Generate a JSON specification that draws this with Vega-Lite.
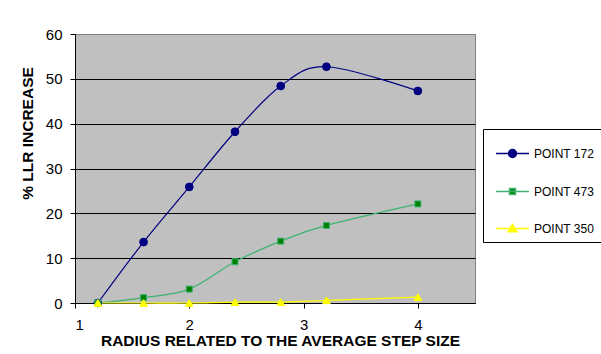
{
  "$schema": "https://vega.github.io/schema/vega-lite/v6.json",
  "width": 400,
  "height": 269,
  "autosize": {"type": "none"},
  "padding": {"left": 75, "top": 34, "right": 126, "bottom": 51},
  "background": "white",
  "config": {
    "font": "Liberation Sans",
    "view": {"fill": "#C0C0C0", "stroke": "#808080", "strokeWidth": 1},
    "axis": {
      "labelFont": "Liberation Sans",
      "labelFontSize": 15,
      "labelColor": "black",
      "domainColor": "black",
      "tickColor": "black",
      "tickSize": 5,
      "titleFont": "Liberation Sans",
      "titleFontSize": 15.5,
      "titleFontWeight": "bold",
      "titleColor": "black"
    },
    "legend": {
      "orient": "none",
      "legendX": 408,
      "legendY": 95,
      "padding": 7,
      "symbolOffset": 5,
      "labelOffset": 4,
      "rowPadding": 13,
      "labelFont": "Liberation Sans",
      "labelFontSize": 12,
      "labelColor": "black",
      "strokeColor": "black",
      "fillColor": "white",
      "symbolSize": 1089,
      "symbolStrokeWidth": 1.5
    }
  },
  "data": {
    "values": [
      {"series": "POINT 172", "x": 1.2, "y": 0},
      {"series": "POINT 172", "x": 1.6, "y": 13.6},
      {"series": "POINT 172", "x": 2.0, "y": 25.9},
      {"series": "POINT 172", "x": 2.4, "y": 38.2},
      {"series": "POINT 172", "x": 2.8, "y": 48.4},
      {"series": "POINT 172", "x": 3.2, "y": 52.7},
      {"series": "POINT 172", "x": 4.0, "y": 47.3},
      {"series": "POINT 473", "x": 1.2, "y": 0},
      {"series": "POINT 473", "x": 1.6, "y": 1.2},
      {"series": "POINT 473", "x": 2.0, "y": 3.1},
      {"series": "POINT 473", "x": 2.4, "y": 9.2},
      {"series": "POINT 473", "x": 2.8, "y": 13.8},
      {"series": "POINT 473", "x": 3.2, "y": 17.3},
      {"series": "POINT 473", "x": 4.0, "y": 22.1},
      {"series": "POINT 350", "x": 1.2, "y": 0},
      {"series": "POINT 350", "x": 1.6, "y": 0},
      {"series": "POINT 350", "x": 2.0, "y": 0},
      {"series": "POINT 350", "x": 2.4, "y": 0.2},
      {"series": "POINT 350", "x": 2.8, "y": 0.2},
      {"series": "POINT 350", "x": 3.2, "y": 0.6},
      {"series": "POINT 350", "x": 4.0, "y": 1.3}
    ]
  },
  "encoding": {
    "x": {
      "field": "x",
      "type": "quantitative",
      "title": "RADIUS RELATED TO THE AVERAGE STEP SIZE",
      "scale": {"domain": [1, 4.5], "nice": false, "zero": false},
      "axis": {
        "values": [1, 2, 3, 4],
        "grid": false,
        "labelPadding": 9,
        "titleX": 205,
        "titleY": 42,
        "titleAlign": "center",
        "titleBaseline": "alphabetic"
      }
    },
    "y": {
      "field": "y",
      "type": "quantitative",
      "title": "% LLR INCREASE",
      "scale": {"domain": [0, 60], "nice": false},
      "axis": {
        "values": [0, 10, 20, 30, 40, 50, 60],
        "grid": true,
        "gridColor": {"condition": {"test": "datum.value === 60", "value": "#808080"}, "value": "#000000"},
        "gridOpacity": 1,
        "gridWidth": 1,
        "labelPadding": 8,
        "titleX": -48,
        "titleY": 99,
        "titleAngle": -90,
        "titleAlign": "center",
        "titleBaseline": "middle"
      }
    },
    "stroke": {
      "field": "series",
      "type": "nominal",
      "title": null,
      "scale": {"domain": ["POINT 172", "POINT 473", "POINT 350"], "range": ["#000080", "#3CB371", "#FFFF00"]}
    }
  },
  "layer": [
    {
      "mark": {"type": "line", "interpolate": "cardinal", "strokeWidth": 1.2}
    },
    {
      "transform": [{"filter": "datum.series === 'POINT 172'"}],
      "mark": {"type": "point", "shape": "circle", "filled": true, "size": 60, "opacity": 1, "strokeWidth": 1},
      "encoding": {
        "fill": {"field": "series", "type": "nominal", "title": null, "scale": {"domain": ["POINT 172", "POINT 473", "POINT 350"], "range": ["#000080", "#008000", "#FFFF00"]}}
      }
    },
    {
      "transform": [{"filter": "datum.series === 'POINT 473'"}],
      "mark": {"type": "point", "shape": "square", "filled": true, "size": 36, "opacity": 1, "strokeWidth": 1},
      "encoding": {
        "fill": {"field": "series", "type": "nominal", "title": null, "scale": {"domain": ["POINT 172", "POINT 473", "POINT 350"], "range": ["#000080", "#008000", "#FFFF00"]}}
      }
    },
    {
      "transform": [{"filter": "datum.series === 'POINT 350'"}],
      "mark": {"type": "point", "shape": "triangle-up", "filled": true, "size": 60, "opacity": 1, "strokeWidth": 1},
      "encoding": {
        "fill": {"field": "series", "type": "nominal", "title": null, "scale": {"domain": ["POINT 172", "POINT 473", "POINT 350"], "range": ["#000080", "#008000", "#FFFF00"]}}
      }
    },
    {
      "transform": [{"filter": "false"}],
      "mark": {"type": "point", "filled": true, "size": 1089, "opacity": 1, "strokeWidth": 1.5},
      "encoding": {
        "fill": {"field": "series", "type": "nominal", "title": null, "scale": {"domain": ["POINT 172", "POINT 473", "POINT 350"], "range": ["#000080", "#008000", "#FFFF00"]}},
        "shape": {
          "field": "series",
          "type": "nominal",
          "title": null,
          "scale": {
            "domain": ["POINT 172", "POINT 473", "POINT 350"],
            "range": [
              "M-1,0H1M0.24,0A0.24,0.24 0 1,1 -0.24,0A0.24,0.24 0 1,1 0.24,0Z",
              "M-1,0H1M-0.18,-0.18H0.18V0.18H-0.18Z",
              "M-1,0H1M0,-0.24L0.27,0.2H-0.27Z"
            ]
          }
        }
      }
    }
  ]
}
